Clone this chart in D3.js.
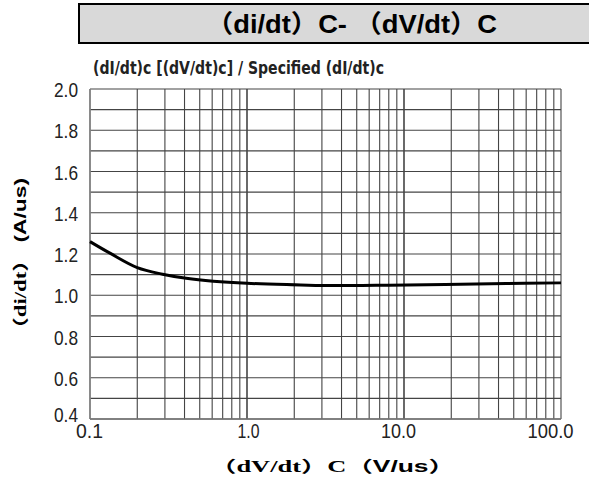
<!DOCTYPE html>
<html><head><meta charset="utf-8">
<script src="https://cdn.jsdelivr.net/npm/d3@7"></script>
<style>body{margin:0;background:#fff}svg{display:block}
.tk text{font-family:'Liberation Sans',Arial,sans-serif;font-size:21px;fill:#222}</style>
</head><body>
<svg id="c" width="589" height="497"></svg>
<script>
const curveX = [0.1, 0.134, 0.2, 0.29, 0.41, 0.61, 1.0, 2.2, 3.0, 8.0, 45, 100];
const curveY = [1.26, 1.204, 1.134, 1.102, 1.082, 1.068, 1.058, 1.05, 1.047, 1.049, 1.057, 1.06];
const xTickValues = [0.1, 1, 10, 100];
const xTickLabels = ["0.1", "1.0", "10.0", "100.0"];
const yTickValues = [0.4, 0.6, 0.8, 1.0, 1.2, 1.4, 1.6, 1.8, 2.0];
const titleText = "（di/dt）C- （dV/dt）C";
const subtitleText = "(dI/dt)c [(dV/dt)c] / Specified (dI/dt)c";

const svg = d3.select("#c");
const x = d3.scaleLog().domain([0.1, 100]).range([90, 561]);
const y = d3.scaleLinear().domain([0.4, 2.0]).range([419, 89]);

// title box
svg.append("rect").attr("x", 79).attr("y", 4).attr("width", 520).attr("height", 39)
  .attr("fill", "#d9d9d9").attr("stroke", "#000").attr("stroke-width", 2);
svg.append("text").attr("x", 206).attr("y", 33)
  .style("font-family", "'Liberation Sans', Arial, 'Noto Sans CJK SC', sans-serif")
  .style("font-weight", "bold").style("font-size", "25px").attr("fill", "#000")
  .attr("textLength", 291).attr("lengthAdjust", "spacingAndGlyphs").text(titleText);

// subtitle
svg.append("text").attr("x", 93).attr("y", 74)
  .style("font-family", "'Liberation Sans Narrow', 'DejaVu Sans Condensed', Arial, sans-serif")
  .style("font-weight", "bold").style("font-size", "18.5px").attr("fill", "#222")
  .attr("textLength", 291).attr("lengthAdjust", "spacingAndGlyphs").text(subtitleText);

// grid
const minorX = [];
for (let d = 0.1; d < 100; d *= 10) for (let k = 1; k <= 10; k++) minorX.push(+(d * k).toPrecision(3));
const gridY = d3.range(4, 21).map(v => v / 10);
const g = svg.append("g");
g.selectAll(".vx").data(minorX).join("line")
  .attr("x1", d => x(d)).attr("x2", d => x(d)).attr("y1", y(2.0)).attr("y2", y(0.4))
  .attr("stroke", "#444").attr("stroke-width", 1.1);
g.selectAll(".hy").data(gridY).join("line")
  .attr("x1", x(0.1)).attr("x2", x(100)).attr("y1", d => y(d)).attr("y2", d => y(d))
  .attr("stroke", "#444").attr("stroke-width", 1.1);

// axes frame (left & bottom)
svg.append("line").attr("x1", x(0.1)).attr("x2", x(0.1)).attr("y1", y(2.0)).attr("y2", y(0.4))
  .attr("stroke", "#888").attr("stroke-width", 1.6);
svg.append("line").attr("x1", x(0.1)).attr("x2", x(100)).attr("y1", y(0.4)).attr("y2", y(0.4))
  .attr("stroke", "#777").attr("stroke-width", 1.4);

// tick labels
const yAxis = d3.axisLeft(y).tickValues(yTickValues).tickFormat(d3.format(".1f")).tickSize(0).tickPadding(12);
const ya = svg.append("g").attr("class", "tk").attr("transform", `translate(${x(0.1)},0)`).call(yAxis);
ya.attr("font-size", null).attr("font-family", null);
ya.select(".domain").remove();
ya.selectAll("text").attr("textLength", 24).attr("lengthAdjust", "spacingAndGlyphs").attr("dy", "0.36em");
ya.selectAll("text").filter(d => d === 0.4).attr("dy", "0.12em");

const xAxis = d3.axisBottom(x).tickValues(xTickValues).tickFormat((d, i) => xTickLabels[i]).tickSize(0).tickPadding(4);
const xa = svg.append("g").attr("class", "tk").attr("transform", `translate(0,${y(0.4)})`).call(xAxis);
xa.attr("font-size", null).attr("font-family", null);
xa.select(".domain").remove();
xa.selectAll("text").attr("textLength", (d, i) => [27, 22, 35, 46][i]).attr("lengthAdjust", "spacingAndGlyphs")
  .attr("dx", (d, i) => [-1, 1, -6, -11][i]);

// curve
const pts = curveX.map((v, i) => [v, curveY[i]]);
svg.append("path").datum(pts)
  .attr("d", d3.line().x(d => x(d[0])).y(d => y(d[1])).curve(d3.curveCatmullRom))
  .attr("fill", "none").attr("stroke", "#000").attr("stroke-width", 3);

// axis titles
const xt = svg.append("text").attr("x", 210).attr("y", 472)
  .style("font-weight", "bold").style("font-size", "16px").attr("fill", "#000")
  .attr("textLength", 245).attr("lengthAdjust", "spacingAndGlyphs");
xt.append("tspan").style("font-family", "'Noto Sans CJK SC', serif").text("（");
xt.append("tspan").style("font-family", "'Liberation Serif', serif").text("dV/dt");
xt.append("tspan").style("font-family", "'Noto Sans CJK SC', serif").text("）");
xt.append("tspan").style("font-family", "'Liberation Serif', serif").text("C");
xt.append("tspan").style("font-family", "'Noto Sans CJK SC', serif").text("（");
xt.append("tspan").style("font-family", "'Liberation Sans', sans-serif").text("V/us");
xt.append("tspan").style("font-family", "'Noto Sans CJK SC', serif").text("）");

const yt = svg.append("text").attr("transform", "translate(26,340) rotate(-90)")
  .style("font-weight", "bold").style("font-size", "16px").attr("fill", "#000")
  .attr("textLength", 162).attr("lengthAdjust", "spacingAndGlyphs");
yt.append("tspan").style("font-family", "'Noto Sans CJK SC', serif").text("（");
yt.append("tspan").style("font-family", "'Liberation Serif', serif").text("di/dt");
yt.append("tspan").style("font-family", "'Noto Sans CJK SC', serif").text("）");
yt.append("tspan").style("font-family", "'Liberation Sans', sans-serif").text("  (A/us)");
</script>
</body></html>
